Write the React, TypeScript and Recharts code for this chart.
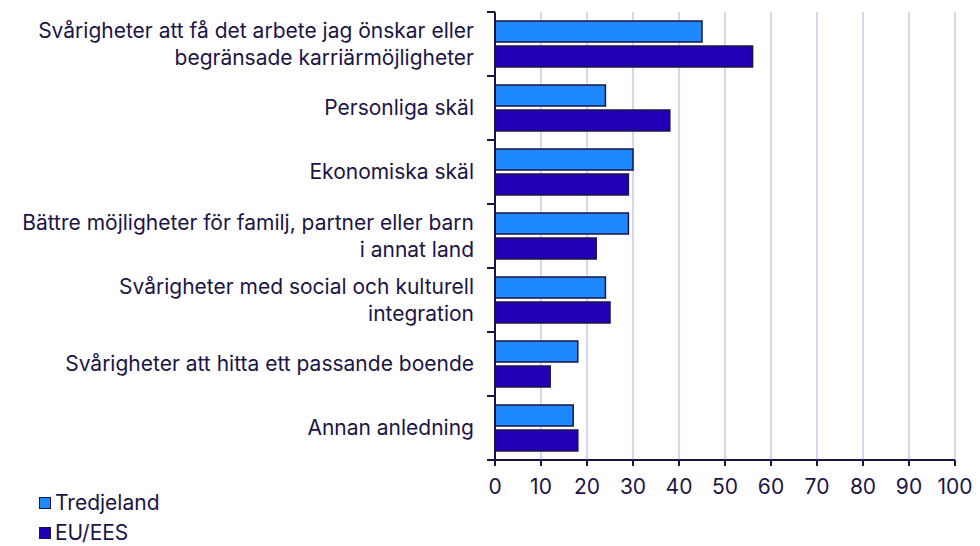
import { Bar, BarChart, CartesianGrid, XAxis, YAxis } from "recharts";

const categories = [
    ["Svårigheter att få det arbete jag önskar eller", "begränsade karriärmöjligheter"],
    ["Personliga skäl"],
    ["Ekonomiska skäl"],
    ["Bättre möjligheter för familj, partner eller barn", "i annat land"],
    ["Svårigheter med social och kulturell", "integration"],
    ["Svårigheter att hitta ett passande boende"],
    ["Annan anledning"],
];
const tredjeland = [45, 24, 30, 29, 24, 18, 17];
const euEes = [56, 38, 29, 22, 25, 12, 18];
const xTicks = [0, 10, 20, 30, 40, 50, 60, 70, 80, 90, 100];

const INK = "#1c1446";
const LIGHT = "#1e88ff";
const DARK = "#2200b8";
const FONT = "Inter, 'Noto Sans', sans-serif";
const FS = 21;

const data = categories.map((lines, i) => ({
    name: lines.join(" "),
    lines,
    tredjeland: tredjeland[i],
    eu: euEes[i],
}));

function CatTick(props: any) {
    const { x, y, payload, index } = props;
    const half = payload.offset ?? 32;
    const lines: string[] = data[index]?.lines ?? [payload.value];
    const lh = 27;
    const y0 = y - ((lines.length - 1) * lh) / 2;
    return (
        <g>
            <line x1={x - 6} x2={x + 2} y1={y - half} y2={y - half} stroke={INK} strokeWidth={2} />
            {index === data.length - 1 && (
                <line x1={x - 6} x2={x + 2} y1={y + half} y2={y + half} stroke={INK} strokeWidth={2} />
            )}
            {lines.map((t, k) => (
                <text
                    key={k}
                    x={x - 19}
                    y={y0 + k * lh}
                    dy="0.35em"
                    textAnchor="end"
                    fill={INK}
                    fontSize={FS}
                    fontFamily={FONT}
                >
                    {t}
                </text>
            ))}
        </g>
    );
}

function LegendItem({ color, label, top }: { color: string; label: string; top: number }) {
    return (
        <div
            style={{
                position: "absolute",
                left: 31,
                top,
                height: 22,
                display: "flex",
                alignItems: "center",
            }}
        >
            <span
                style={{
                    width: 10,
                    height: 10,
                    background: color,
                    border: `1.5px solid ${INK}`,
                    marginRight: 4,
                }}
            />
            <span style={{ fontSize: FS, color: INK, fontFamily: FONT, lineHeight: "22px" }}>
                {label}
            </span>
        </div>
    );
}

export default function App() {
    return (
        <div style={{ position: "relative", width: 964, height: 536 }}>
            <BarChart
                width={964}
                height={530}
                data={data}
                layout="vertical"
                margin={{ top: 4, right: 17, left: 0, bottom: 48 }}
                barCategoryGap={9}
                barGap={4}
            >
                <CartesianGrid horizontal={false} stroke="#d6d6f0" strokeWidth={2} />
                <XAxis
                    type="number"
                    domain={[0, 100]}
                    ticks={xTicks}
                    interval={0}
                    height={30}
                    axisLine={{ stroke: INK, strokeWidth: 2 }}
                    tickLine={{ stroke: INK, strokeWidth: 2 }}
                    tickSize={6}
                    tick={{ fill: INK, fontSize: FS, fontFamily: FONT }}
                    tickMargin={13}
                />
                <YAxis
                    type="category"
                    dataKey="name"
                    width={487}
                    axisLine={{ stroke: INK, strokeWidth: 2 }}
                    tickLine={false}
                    tickSize={0}
                    tick={<CatTick />}
                    interval={0}
                />
                <Bar
                    dataKey="tredjeland"
                    name="Tredjeland"
                    fill={LIGHT}
                    stroke={INK}
                    strokeWidth={1.5}
                    isAnimationActive={false}
                />
                <Bar
                    dataKey="eu"
                    name="EU/EES"
                    fill={DARK}
                    stroke={INK}
                    strokeWidth={1.5}
                    isAnimationActive={false}
                />
            </BarChart>
            <LegendItem color={LIGHT} label="Tredjeland" top={484} />
            <LegendItem color={DARK} label="EU/EES" top={514} />
        </div>
    );
}
